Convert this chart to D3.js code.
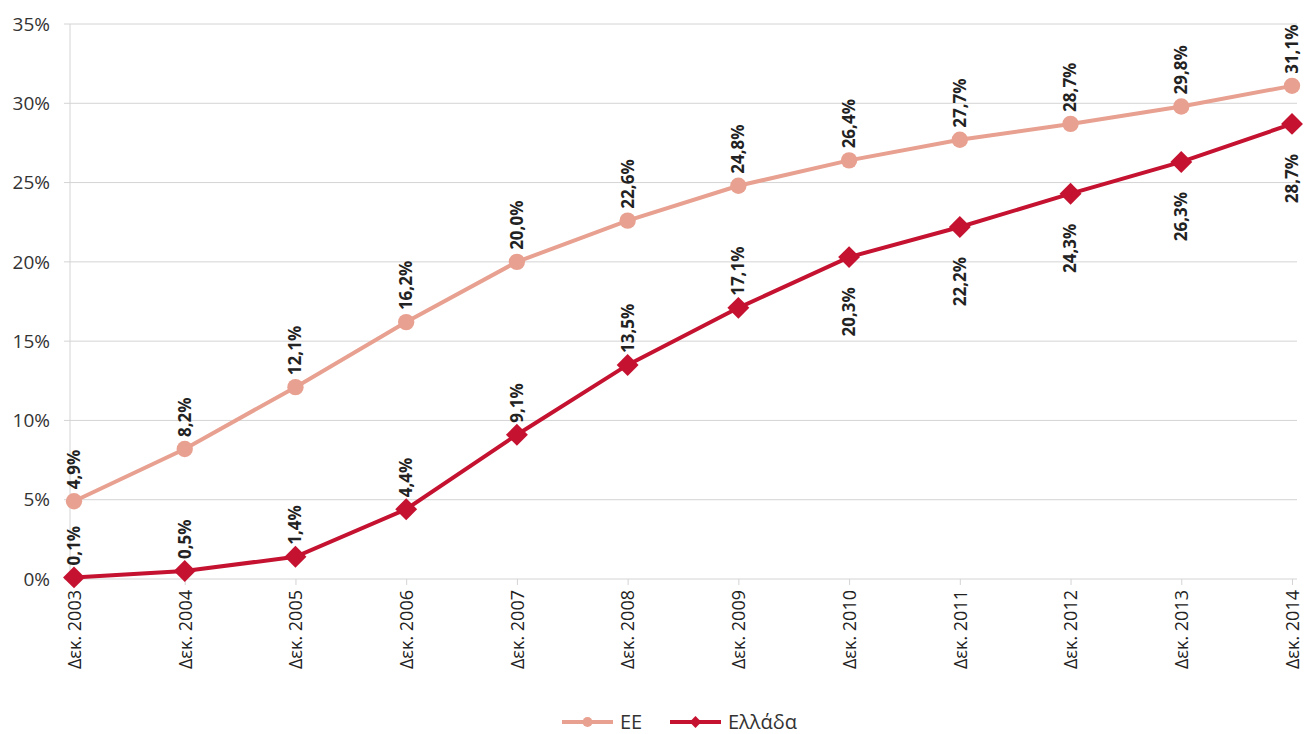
<!DOCTYPE html>
<html>
<head>
<meta charset="utf-8">
<script src="https://cdn.jsdelivr.net/npm/d3@7"></script>
<style>
  body { margin: 0; background: #fff; }
  text { font-family: "Open Sans", "Noto Sans", sans-serif; }
</style>
</head>
<body>
<script>
"use strict";
// categories and series
const years = ["Δεκ. 2003", "Δεκ. 2004", "Δεκ. 2005", "Δεκ. 2006", "Δεκ. 2007", "Δεκ. 2008",
               "Δεκ. 2009", "Δεκ. 2010", "Δεκ. 2011", "Δεκ. 2012", "Δεκ. 2013", "Δεκ. 2014"]
const euValues = [4.9, 8.2, 12.1, 16.2, 20.0, 22.6, 24.8, 26.4, 27.7, 28.7, 29.8, 31.1]
const grValues = [0.1, 0.5, 1.4, 4.4, 9.1, 13.5, 17.1, 20.3, 22.2, 24.3, 26.3, 28.7]
const yTicks = [0, 5, 10, 15, 20, 25, 30, 35]
const seriesNames = ["ΕΕ", "Ελλάδα"]

const measurements = { width: 1304, height: 734 }
const colors = { eu: "#E8A090", gr: "#C41230", grid: "#d4d4d4" }

const svg = d3.select("body").append("svg")
    .attr("width", measurements.width)
    .attr("height", measurements.height)

const scaleX = d3.scalePoint().domain(years).range([74, 1292])
const scaleY = d3.scaleLinear().domain([0, 35]).range([579, 24])

// gridlines + y labels
svg.append("g").selectAll("line").data(yTicks).enter().append("line")
    .attr("x1", 64).attr("x2", 1297)
    .attr("y1", d => scaleY(d)).attr("y2", d => scaleY(d))
    .attr("stroke", colors.grid).attr("stroke-width", 1)

svg.append("g").selectAll("text").data(yTicks).enter().append("text")
    .attr("x", 50).attr("y", d => scaleY(d))
    .attr("dy", "0.35em")
    .attr("text-anchor", "end")
    .attr("font-size", 19)
    .attr("fill", "#333")
    .text(d => d + "%")

// y axis line
svg.append("line")
    .attr("x1", 70).attr("x2", 70).attr("y1", scaleY(35)).attr("y2", scaleY(0))
    .attr("stroke", colors.grid)

// x axis ticks and labels
const xAxis = d3.axisBottom(scaleX).tickSize(6).tickSizeOuter(0)
const gx = svg.append("g").attr("transform", "translate(0," + scaleY(0) + ")").call(xAxis)
gx.select(".domain").remove()
gx.selectAll("line").attr("stroke", colors.grid)
gx.selectAll("text")
    .attr("transform", "rotate(-90)")
    .attr("x", -11).attr("y", 0).attr("dy", "0.35em")
    .attr("text-anchor", "end")
    .attr("font-size", 18)
    .attr("font-family", "'Open Sans', sans-serif")
    .attr("fill", "#222")

const line = d3.line().x((d, i) => scaleX(years[i])).y(d => scaleY(d))

function drawSeries(values, color, shape) {
    svg.append("path").datum(values)
        .attr("d", line)
        .attr("fill", "none")
        .attr("stroke", color)
        .attr("stroke-width", 4)
    svg.append("g").selectAll("path").data(values).enter().append("path")
        .attr("d", d3.symbol().type(shape).size(shape === d3.symbolCircle ? 210 : 240))
        .attr("transform", (d, i) => "translate(" + scaleX(years[i]) + "," + scaleY(d) + ")" +
            (shape === d3.symbolSquare ? " rotate(45)" : ""))
        .attr("fill", color)
}

drawSeries(euValues, colors.eu, d3.symbolCircle)
drawSeries(grValues, colors.gr, d3.symbolSquare)

// data labels
function fmt(v) { return v.toFixed(1).replace(".", ",") + "%" }

function drawLabels(values, below) {
    svg.append("g").selectAll("text").data(values).enter().append("text")
        .attr("transform", (d, i) => {
            const x = scaleX(years[i])
            const y = below(i) ? scaleY(d) + 30 : scaleY(d) - 12
            return "translate(" + x + "," + y + ") rotate(-90)"
        })
        .attr("text-anchor", (d, i) => below(i) ? "end" : "start")
        .attr("dy", "0.35em")
        .attr("font-size", 17)
        .attr("font-weight", "bold")
        .attr("font-family", "'Liberation Sans Narrow', 'DejaVu Sans Condensed', sans-serif")
        .attr("fill", "#222")
        .text(fmt)
}

drawLabels(euValues, () => false)
drawLabels(grValues, i => i >= 7)

// legend
const legend = svg.append("g").attr("transform", "translate(0,722)")
const legendItems = [
    { name: seriesNames[0], color: colors.eu, shape: d3.symbolCircle, x: 562 },
    { name: seriesNames[1], color: colors.gr, shape: d3.symbolSquare, x: 670 }
]
legendItems.forEach(item => {
    legend.append("line")
        .attr("x1", item.x).attr("x2", item.x + 51)
        .attr("stroke", item.color).attr("stroke-width", 4)
    legend.append("path")
        .attr("d", d3.symbol().type(item.shape).size(item.shape === d3.symbolCircle ? 80 : 70))
        .attr("transform", "translate(" + (item.x + 25.5) + ",0)" + (item.shape === d3.symbolSquare ? " rotate(45)" : ""))
        .attr("fill", item.color)
    legend.append("text")
        .attr("x", item.x + 58).attr("dy", "0.35em")
        .attr("font-size", 20)
        .attr("fill", "#333")
        .text(item.name)
})
</script>
</body>
</html>
